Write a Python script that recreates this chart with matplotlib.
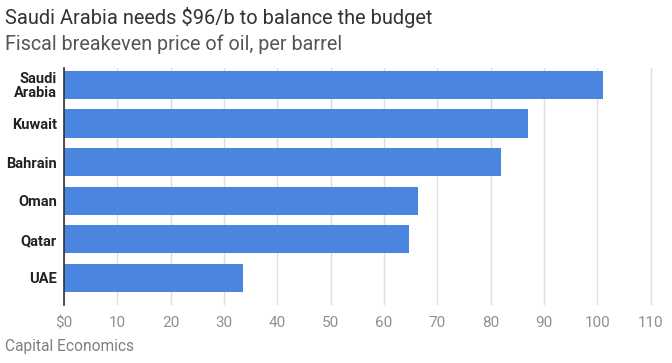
import matplotlib.pyplot as plt

countries = ["Saudi\nArabia", "Kuwait", "Bahrain", "Oman", "Qatar", "UAE"]
breakeven = [101, 87, 82, 66.4, 64.7, 33.6]
x_ticks = [0, 10, 20, 30, 40, 50, 60, 70, 80, 90, 100, 110]
x_tick_labels = ["$0"] + [str(t) for t in x_ticks[1:]]

fig = plt.figure(figsize=(6.72, 3.63), dpi=100)
ax = fig.add_axes([64 / 672, 58 / 363, 597.5 / 672, 237 / 363])

pos = list(range(len(countries)))
ax.barh(pos, breakeven, height=0.73, color="#4a86e0", zorder=2)
ax.set_ylim(5.7, -0.44)
ax.set_xlim(0, 112)

ax.set_xticks(x_ticks)
ax.set_xticklabels(x_tick_labels, fontsize=11, color="#909090", family="Roboto")
ax.set_yticks(pos)
ax.set_yticklabels(countries, fontsize=10.5, color="#222222", family="Roboto",
                   fontweight="bold", linespacing=1.0)
ax.tick_params(axis="both", length=0)
ax.tick_params(axis="x", pad=8)
ax.tick_params(axis="y", pad=5)
ax.grid(axis="x", color="#dddddd", linewidth=1, zorder=0)
for s in ["top", "right", "bottom"]:
    ax.spines[s].set_visible(False)
ax.spines["left"].set_color("#333333")
ax.spines["left"].set_linewidth(1.2)
ax.spines["left"].set_zorder(3)

fig.text(5 / 672, 1 - 17 / 363, "Saudi Arabia needs $96/b to balance the budget",
         fontsize=14.4, color="#333333", family="Roboto", va="center")
fig.text(5 / 672, 1 - 44 / 363, "Fiscal breakeven price of oil, per barrel",
         fontsize=14.2, color="#555555", family="Roboto", va="center")
fig.text(5 / 672, 1 - 347 / 363, "Capital Economics",
         fontsize=11.2, color="#808080", family="Roboto", va="center")

fig.savefig("out.png", dpi=100)
